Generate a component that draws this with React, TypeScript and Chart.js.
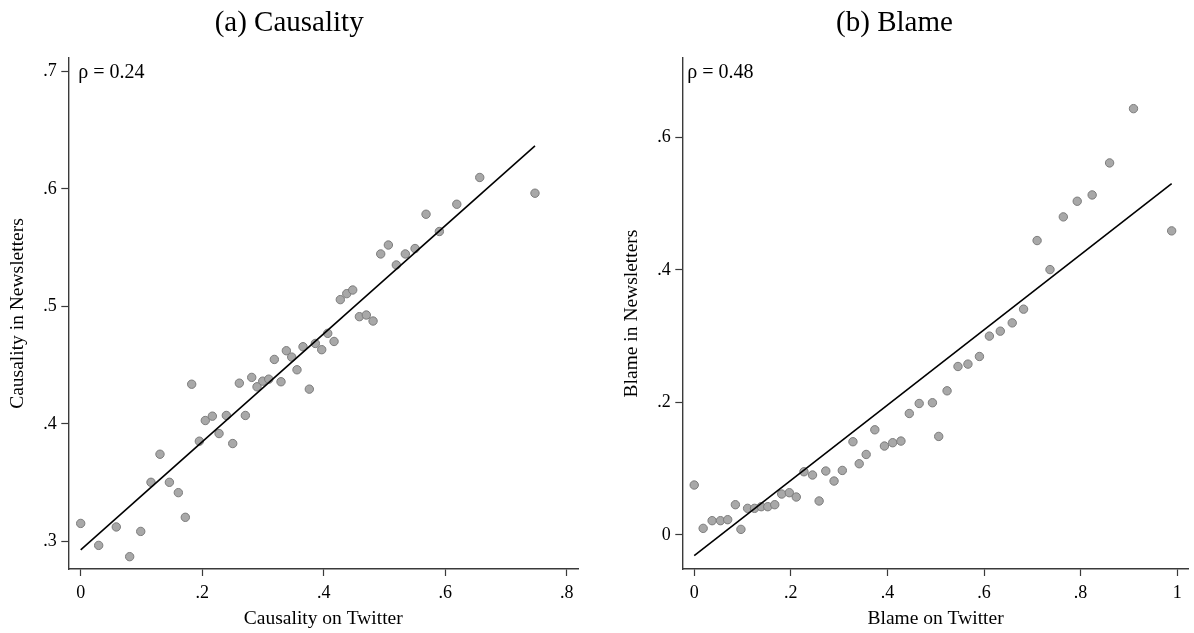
import React, { useEffect, useRef } from "react";
import { Chart, registerables } from "chart.js";

Chart.register(...registerables);

// ---------- Data ----------
const causalityTwitter = [0, 0.0296, 0.0586, 0.0806, 0.0988, 0.1157, 0.1305, 0.146, 0.1607, 0.1722, 0.1827, 0.1953, 0.2051, 0.2167, 0.2277, 0.2397, 0.2502, 0.2611, 0.271, 0.2815, 0.2902, 0.2996, 0.3095, 0.3187, 0.3297, 0.3385, 0.3473, 0.356, 0.3659, 0.3763, 0.3862, 0.3967, 0.4066, 0.417, 0.4273, 0.4379, 0.4477, 0.4587, 0.4701, 0.4812, 0.4938, 0.5064, 0.5195, 0.5343, 0.5503, 0.5684, 0.5903, 0.619, 0.6568, 0.7477];
const causalityNewsletters = [0.3153, 0.2966, 0.3123, 0.287, 0.3085, 0.3503, 0.3742, 0.3503, 0.3415, 0.3205, 0.4338, 0.3853, 0.4029, 0.4066, 0.3918, 0.4072, 0.3833, 0.4347, 0.4072, 0.4396, 0.4316, 0.4364, 0.4381, 0.4549, 0.4359, 0.4623, 0.4569, 0.4461, 0.4657, 0.4296, 0.4685, 0.4632, 0.4771, 0.4702, 0.5058, 0.5109, 0.514, 0.4913, 0.4927, 0.4876, 0.5447, 0.5523, 0.5353, 0.5447, 0.5493, 0.5785, 0.5638, 0.587, 0.6098, 0.5964];
const causalityFitX = [0, 0.7477];
const causalityFitY = [0.2927, 0.6367];
const causalityRho = "ρ = 0.24";

const blameTwitter = [0, 0.0185, 0.037, 0.0543, 0.0693, 0.0852, 0.0967, 0.1105, 0.1249, 0.1387, 0.1523, 0.1667, 0.1811, 0.1969, 0.2113, 0.2272, 0.2449, 0.2586, 0.2724, 0.2895, 0.3066, 0.3286, 0.3416, 0.356, 0.3739, 0.3938, 0.4109, 0.428, 0.4453, 0.4658, 0.4932, 0.5062, 0.5235, 0.5461, 0.5667, 0.5905, 0.6111, 0.6337, 0.6584, 0.6819, 0.7099, 0.7366, 0.7642, 0.793, 0.8239, 0.86, 0.9095, 0.9885];
const blameNewsletters = [0.0754, 0.01, 0.0216, 0.0216, 0.0231, 0.0457, 0.0085, 0.0402, 0.0402, 0.0427, 0.0427, 0.0457, 0.0618, 0.0638, 0.0573, 0.0954, 0.0905, 0.0513, 0.0965, 0.0814, 0.0974, 0.1407, 0.1075, 0.1215, 0.1587, 0.1342, 0.1392, 0.1417, 0.1833, 0.1984, 0.1995, 0.1487, 0.2175, 0.2542, 0.2578, 0.2693, 0.3, 0.3075, 0.32, 0.3407, 0.4442, 0.4004, 0.4799, 0.5035, 0.513, 0.5613, 0.6432, 0.4588];
const blameFitX = [0, 0.9885];
const blameFitY = [-0.031, 0.53];
const blameRho = "ρ = 0.48";

const causalityXTicks = [0, 0.2, 0.4, 0.6, 0.8];
const causalityXTickLabels = ["0", ".2", ".4", ".6", ".8"];
const causalityYTicks = [0.3, 0.4, 0.5, 0.6, 0.7];
const causalityYTickLabels = [".3", ".4", ".5", ".6", ".7"];
const blameXTicks = [0, 0.2, 0.4, 0.6, 0.8, 1];
const blameXTickLabels = ["0", ".2", ".4", ".6", ".8", "1"];
const blameYTicks = [0, 0.2, 0.4, 0.6];
const blameYTickLabels = ["0", ".2", ".4", ".6"];

const SERIF = '"Liberation Serif", "Times New Roman", serif';
const AXIS_COLOR = "#3a3a3a";

type PanelProps = {
  title: string;
  xTitle: string;
  yTitle: string;
  xs: number[];
  ys: number[];
  fitX: number[];
  fitY: number[];
  rho: string;
  xTicks: number[];
  xTickLabels: string[];
  yTicks: number[];
  yTickLabels: string[];
  xMin: number;
  xMax: number;
  yMin: number;
  yMax: number;
  yAxisWidth: number;
  yTitlePad: number;
  rightPad: number;
  rhoOffset: number;
  left: number;
};

function Panel(p: PanelProps) {
  const ref = useRef<HTMLCanvasElement | null>(null);
  useEffect(() => {
    if (!ref.current) return;
    const rhoPlugin = {
      id: "rhoText",
      afterDraw(chart: any) {
        const { ctx, chartArea } = chart;
        ctx.save();
        ctx.font = `20px ${SERIF}`;
        ctx.fillStyle = "#000";
        ctx.textBaseline = "middle";
        ctx.textAlign = "left";
        ctx.fillText(p.rho, chartArea.left + p.rhoOffset, chartArea.top + 15);
        ctx.restore();
      },
    };
    const chart = new Chart(ref.current, {
      type: "scatter",
      data: {
        datasets: [
          {
            label: "fit",
            data: p.fitX.map((x, i) => ({ x, y: p.fitY[i] })),
            showLine: true,
            borderColor: "#000",
            borderWidth: 1.6,
            pointRadius: 0,
            pointHoverRadius: 0,
            fill: false,
          },
          {
            label: "bins",
            data: p.xs.map((x, i) => ({ x, y: p.ys[i] })),
            backgroundColor: "#a8a8a8",
            borderColor: "#7c7c7c",
            borderWidth: 1,
            pointRadius: 4.2,
          },
        ],
      },
      options: {
        animation: false,
        responsive: false,
        devicePixelRatio: 1,
        layout: { padding: { left: 0, right: p.rightPad, top: 0, bottom: 0 } },
        plugins: {
          legend: { display: false },
          tooltip: { enabled: false },
          title: {
            display: true,
            text: p.title,
            color: "#000",
            font: { family: SERIF, size: 29, weight: "normal" },
            padding: { top: 5.6, bottom: 17.6 },
          },
        },
        scales: {
          x: {
            type: "linear",
            min: p.xMin,
            max: p.xMax,
            afterBuildTicks: (s: any) => {
              s.ticks = p.xTicks.map((v) => ({ value: v }));
            },
            afterFit: (s: any) => {
              s.height = 64;
            },
            ticks: {
              autoSkip: false,
              maxRotation: 0,
              color: "#000",
              padding: 6,
              font: { family: SERIF, size: 18 },
              callback: (v: any) => {
                const i = p.xTicks.findIndex((t) => Math.abs(t - v) < 1e-9);
                return i >= 0 ? p.xTickLabels[i] : "";
              },
            },
            grid: {
              drawOnChartArea: false,
              drawTicks: true,
              tickLength: 7,
              tickColor: AXIS_COLOR,
              tickWidth: 1.2,
            },
            border: { display: true, color: AXIS_COLOR, width: 1.4 },
            title: {
              display: true,
              text: p.xTitle,
              color: "#000",
              font: { family: SERIF, size: 19.5 },
              padding: { top: 0, bottom: 2.4 },
            },
          },
          y: {
            type: "linear",
            min: p.yMin,
            max: p.yMax,
            afterBuildTicks: (s: any) => {
              s.ticks = p.yTicks.map((v) => ({ value: v }));
            },
            afterFit: (s: any) => {
              s.width = p.yAxisWidth;
            },
            ticks: {
              autoSkip: false,
              color: "#000",
              padding: 4.5,
              font: { family: SERIF, size: 18 },
              callback: (v: any) => {
                const i = p.yTicks.findIndex((t) => Math.abs(t - v) < 1e-9);
                return i >= 0 ? p.yTickLabels[i] : "";
              },
            },
            grid: {
              drawOnChartArea: false,
              drawTicks: true,
              tickLength: 7,
              tickColor: AXIS_COLOR,
              tickWidth: 1.2,
            },
            border: { display: true, color: AXIS_COLOR, width: 1.4 },
            title: {
              display: true,
              text: p.yTitle,
              color: "#000",
              font: { family: SERIF, size: 19.5 },
              padding: { top: p.yTitlePad, bottom: 0 },
            },
          },
        },
      },
      plugins: [rhoPlugin],
    } as any);
    return () => chart.destroy();
  }, []);
  return (
    <canvas
      ref={ref}
      width={597}
      height={633}
      style={{ position: "absolute", left: p.left, top: 0, width: 597, height: 633 }}
    />
  );
}

export default function App() {
  return (
    <div style={{ position: "fixed", left: 0, top: 0, width: 1194, height: 633, background: "#fff" }}>
      <Panel
        title="(a) Causality"
        xTitle="Causality on Twitter"
        yTitle="Causality in Newsletters"
        xs={causalityTwitter}
        ys={causalityNewsletters}
        fitX={causalityFitX}
        fitY={causalityFitY}
        rho={causalityRho}
        xTicks={causalityXTicks}
        xTickLabels={causalityXTickLabels}
        yTicks={causalityYTicks}
        yTickLabels={causalityYTickLabels}
        xMin={-0.0204}
        xMax={0.819}
        yMin={0.2765}
        yMax={0.7115}
        yAxisWidth={68.3}
        yTitlePad={6}
        rightPad={18.7}
        rhoOffset={10}
        left={0}
      />
      <Panel
        title="(b) Blame"
        xTitle="Blame on Twitter"
        yTitle="Blame in Newsletters"
        xs={blameTwitter}
        ys={blameNewsletters}
        fitX={blameFitX}
        fitY={blameFitY}
        rho={blameRho}
        xTicks={blameXTicks}
        xTickLabels={blameXTickLabels}
        yTicks={blameYTicks}
        yTickLabels={blameYTickLabels}
        xMin={-0.0247}
        xMax={1.024}
        yMin={-0.0513}
        yMax={0.7196}
        yAxisWidth={85.3}
        yTitlePad={23.6}
        rightPad={2}
        rhoOffset={5}
        left={597}
      />
    </div>
  );
}
